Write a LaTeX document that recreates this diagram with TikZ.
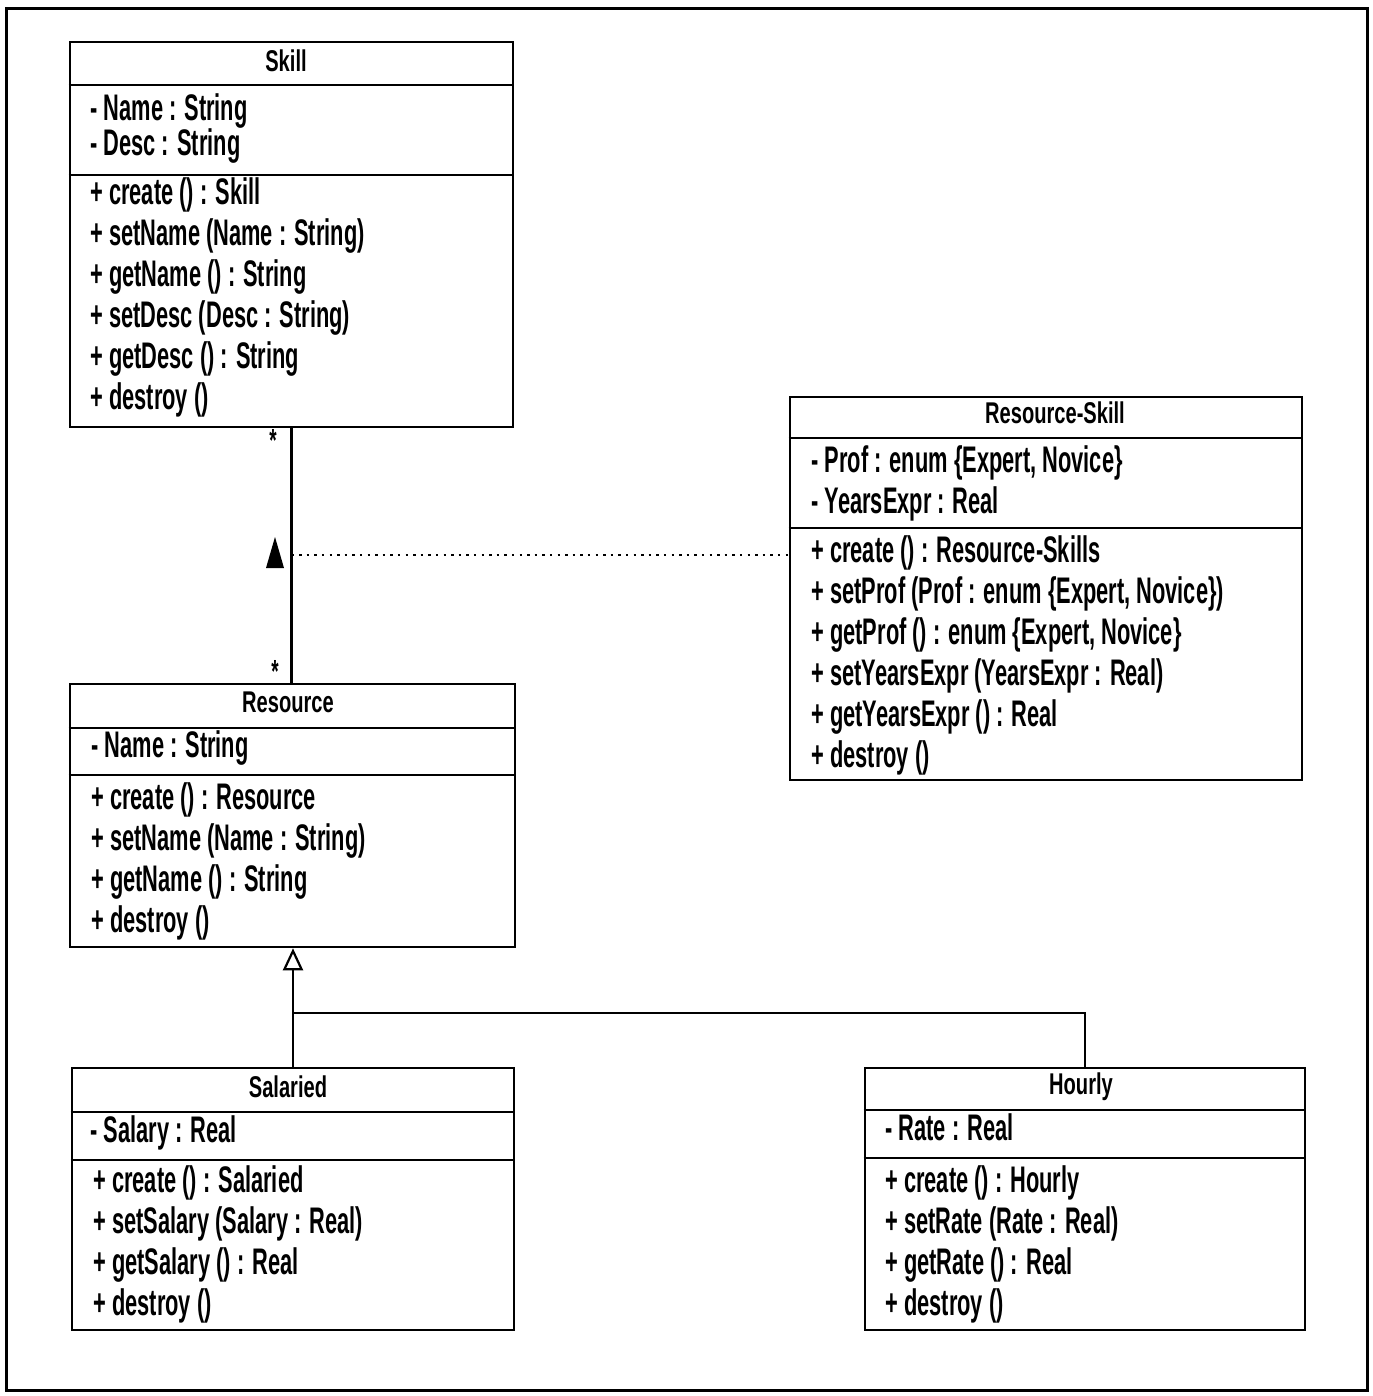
\documentclass[tikz,border=0pt]{standalone}
\usepackage{fontspec}
\setmainfont{Liberation Sans}[FakeStretch=0.59]
\newfontfamily\classtitlefont{Liberation Sans}[FakeStretch=0.67]
\usetikzlibrary{arrows.meta,fit}

\tikzset{
  classbox/.style={draw, line width=1.3pt, inner sep=0pt},
  compline/.style={line width=1.3pt},
  classname/.style={anchor=base, inner sep=0pt, font=\classtitlefont\bfseries\fontsize{15pt}{16pt}\selectfont},
  members/.style={anchor=base west, inner sep=0pt, align=left, font=\bfseries\fontsize{18.5pt}{20.5pt}\selectfont},
  mult/.style={inner sep=0pt, font=\bfseries\fontsize{16pt}{16pt}\selectfont},
  assocline/.style={line width=1.3pt},
  linkline/.style={line width=1.1pt, dash pattern=on 1.2pt off 2.6pt},
  genline/.style={line width=1.3pt},
  gentip/.style={-{Triangle[open, length=11pt, width=10pt, line width=1.1pt]}}
}

\begin{document}
\begin{tikzpicture}[x=0.5pt, y=-0.5pt]
	\useasboundingbox (0,0) rectangle (1372,1396);
	\draw[line width=1.5pt] (6,9) rectangle (1367,1390);

	% Skill
	\node[classbox, fit={(70,42) (513,427)}] (skill) {};
	\draw[compline] (skill.west |- 0,85) -- (skill.east |- 0,85);
	\draw[compline] (skill.west |- 0,175) -- (skill.east |- 0,175);
	\node[classname] (skill-name) at (286,72) {Skill};
	\node[members] (skill-attrs) at (90,156) {- Name : String\\[-3pt]- Desc : String};
	\node[members] (skill-ops) at (90,409) {+ create () : Skill\\+ setName (Name : String)\\+ getName () : String\\+ setDesc (Desc : String)\\+ getDesc () : String\\+ destroy ()};

	% Resource
	\node[classbox, fit={(70,684) (515,947)}] (resource) {};
	\draw[compline] (resource.west |- 0,728) -- (resource.east |- 0,728);
	\draw[compline] (resource.west |- 0,775) -- (resource.east |- 0,775);
	\node[classname] (resource-name) at (288,712) {Resource};
	\node[members] (resource-attrs) at (91,757) {- Name : String};
	\node[members] (resource-ops) at (91,932) {+ create () : Resource\\+ setName (Name : String)\\+ getName () : String\\+ destroy ()};

	% Resource-Skill
	\node[classbox, fit={(790,397) (1302,780)}] (rskill) {};
	\draw[compline] (rskill.west |- 0,438) -- (rskill.east |- 0,438);
	\draw[compline] (rskill.west |- 0,528) -- (rskill.east |- 0,528);
	\node[classname] (rskill-name) at (1055,423) {Resource-Skill};
	\node[members] (rskill-attrs) at (811,513) {- Prof : enum \{Expert, Novice\}\\- YearsExpr : Real};
	\node[members] (rskill-ops) at (811,767) {+ create () : Resource-Skills\\+ setProf (Prof : enum \{Expert, Novice\})\\+ getProf () : enum \{Expert, Novice\}\\+ setYearsExpr (YearsExpr : Real)\\+ getYearsExpr () : Real\\+ destroy ()};

	% Salaried
	\node[classbox, fit={(72,1068) (514,1330)}] (salaried) {};
	\draw[compline] (salaried.west |- 0,1112) -- (salaried.east |- 0,1112);
	\draw[compline] (salaried.west |- 0,1160) -- (salaried.east |- 0,1160);
	\node[classname] (salaried-name) at (288,1097) {Salaried};
	\node[members] (salaried-attrs) at (90,1142) {- Salary : Real};
	\node[members] (salaried-ops) at (93,1315) {+ create () : Salaried\\+ setSalary (Salary : Real)\\+ getSalary () : Real\\+ destroy ()};

	% Hourly
	\node[classbox, fit={(865,1068) (1305,1330)}] (hourly) {};
	\draw[compline] (hourly.west |- 0,1110) -- (hourly.east |- 0,1110);
	\draw[compline] (hourly.west |- 0,1158) -- (hourly.east |- 0,1158);
	\node[classname] (hourly-name) at (1081,1094) {Hourly};
	\node[members] (hourly-attrs) at (885,1140) {- Rate : Real};
	\node[members] (hourly-ops) at (885,1315) {+ create () : Hourly\\+ setRate (Rate : Real)\\+ getRate () : Real\\+ destroy ()};

	% association Skill -- Resource
	\draw[assocline] (skill.south) -- (skill.south |- resource.north);
	\node[mult] (mult-skill) at (273,440) {*};
	\node[mult] (mult-resource) at (275,671) {*};
	\fill (275,537) -- (266,568) -- (284,568) -- cycle;
	\coordinate (assoc-mid) at (skill.south |- 0,555);
	\draw[linkline] (assoc-mid) -- (rskill.west |- assoc-mid);

	% generalization
	\coordinate (gen-join) at (salaried.north |- 0,1013);
	\draw[genline, gentip] (salaried.north) -- (salaried.north |- resource.south);
	\draw[genline] (hourly.north) |- (gen-join);
\end{tikzpicture}
\end{document}
